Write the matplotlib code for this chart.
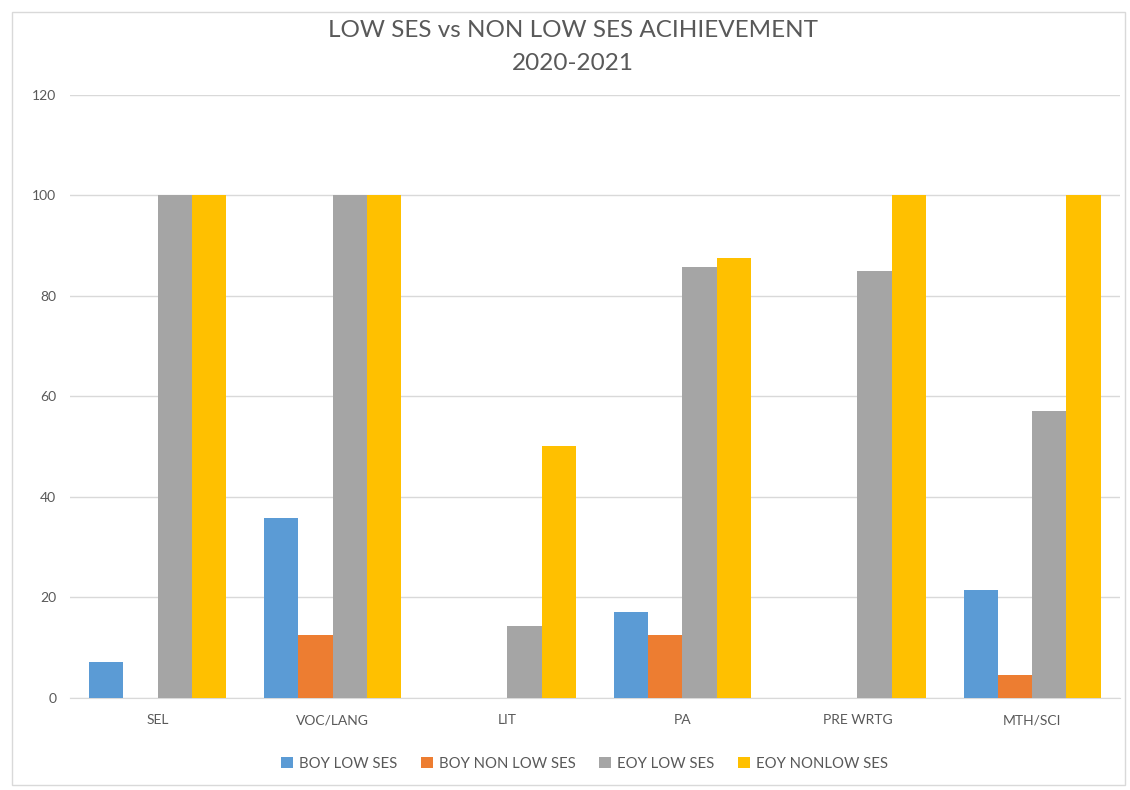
import numpy as np
import matplotlib.pyplot as plt
from matplotlib.patches import Rectangle

# datos
categorias = ['SEL', 'VOC/LANG', 'LIT', 'PA', 'PRE WRTG', 'MTH/SCI']
boy_low = [7.1, 35.7, 0, 17.1, 0, 21.4]
boy_non_low = [0, 12.5, 0, 12.5, 0, 4.5]
eoy_low = [100, 100, 14.3, 85.7, 85.0, 57.1]
eoy_non_low = [100, 100, 50, 87.5, 100, 100]

series = [boy_low, boy_non_low, eoy_low, eoy_non_low]
nombres = ['BOY LOW SES', 'BOY NON LOW SES', 'EOY LOW SES', 'EOY NONLOW SES']
colores = ['#5B9BD5', '#ED7D31', '#A5A5A5', '#FFC000']

plt.rcParams['font.family'] = ['Lato', 'DejaVu Sans']
gris = '#595959'

fig = plt.figure(figsize=(11.3, 7.9), dpi=100)
ax = fig.add_axes([0.062, 0.117, 0.929, 0.763])

x = np.arange(len(categorias))
ancho = 0.195
for i, (vals, nom, col) in enumerate(zip(series, nombres, colores)):
    ax.bar(x + (i - 1.5) * ancho, vals, ancho, color=col, label=nom, zorder=3)

ax.set_xlim(-0.5, len(categorias) - 0.5)
ax.set_ylim(0, 120)
ax.set_yticks(range(0, 121, 20))
ax.set_xticks(x)
ax.set_xticklabels(categorias)
ax.tick_params(axis='both', length=0, labelsize=10, colors=gris)
ax.tick_params(axis='x', pad=12)
ax.tick_params(axis='y', pad=10)
ax.grid(axis='y', color='#D9D9D9', linewidth=1, zorder=0)
for s in ['top', 'right', 'left']:
    ax.spines[s].set_visible(False)
ax.spines['bottom'].set_color('#D9D9D9')

fig.text(0.507, 0.975, 'LOW SES vs NON LOW SES ACIHIEVEMENT\n2020-2021',
         ha='center', va='top', fontsize=17.5, color=gris, linespacing=1.75)

ax.legend(loc='center', bbox_to_anchor=(0.49, -0.11), ncol=4, frameon=False,
          fontsize=10.7, handlelength=0.8, handleheight=0.8, columnspacing=1.6,
          handletextpad=0.4, labelcolor=gris)

fig.patches.append(Rectangle((0.011, 0.006), 0.985, 0.979, transform=fig.transFigure,
                             fill=False, edgecolor='#D9D9D9', linewidth=1))

fig.savefig('out.png', dpi=100, facecolor='white')
